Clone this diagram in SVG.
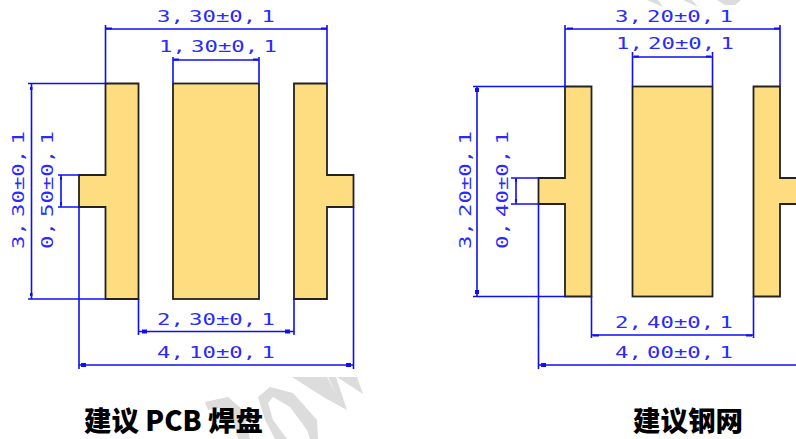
<svg xmlns="http://www.w3.org/2000/svg" width="796" height="439" viewBox="0 0 796 439">
<style>
.pad{fill:#fedc80;stroke:#222;stroke-width:1.8}
.d{stroke:#0f0ff5;stroke-width:1.6;fill:none}
.a{fill:#0f0ff5}
.t{font-family:"DejaVu Sans Mono","Liberation Mono",monospace;font-size:15.500px;fill:#2a2aff;word-spacing:-5.700px}
.w{fill:#dcdcdc}
.c{font-family:"Noto Sans CJK SC","Noto Sans",sans-serif;font-size:27.500px;font-weight:900;fill:#000}
</style>
<rect width="796" height="439" fill="#fff"/>
<g id="watermark">
<path class="w" d="M205 402L228 397L243 410L250 439H238L232 415L220 408L208 410Z"/>
<path class="w" d="M318 439L317 420L293 393L270 387L258 397L265 420L275 439H287L273 420L268 403L273 397L290 407L307 430L310 439Z"/>
<path class="w" d="M292 377H327L336 394L328 377H336L347 410L325 398Z"/>
<path class="w" d="M337 377H357L363 394Z"/>
<path class="w" d="M647 0H658L663 7ZM683 0H692L698 7ZM717 0H741L735 5H725Z"/>
</g>
<g id="pad-left-1"><path class="pad" d="M105.500 83.500H138.500V299H105.500V207H79V175H105.500Z"/></g>
<g id="pad-left-2"><rect class="pad" x="173" y="83.500" width="86" height="215.500"/></g>
<g id="pad-left-3"><path class="pad" d="M294 83.500H327V175H353.500V207H327V299H294Z"/></g>
<g id="pad-right-1"><path class="pad" d="M565 86.500H591.500V296.500H565V204H538.500V178H565Z"/></g>
<g id="pad-right-2"><rect class="pad" x="632.500" y="86.500" width="80" height="210"/></g>
<g id="pad-right-3"><path class="pad" d="M753.500 86.500H780V178H800V204H780V296.500H753.500Z"/></g>
<g id="connectors">
<path class="d" d="M105.500 25V83M327 25V83M105.500 29H327M173 57V83M259 57V83M173 60H259M28 83.500H105.500M28 299H105.500M31.500 83.500V299M58 175H79M58 207H79M61 175V207M138.500 299V335M294 299V335M138.500 331.500H294M79 207V369M353.500 207V369M79 365H353.500"/>
<path class="d" d="M565 25V86M780 25V86M565 29H780M632.500 52V86M712.500 52V86M632.500 57H712.500M473 86.500H565M473 296.500H565M477 86.500V296.500M511 178H538.500M511 204H538.500M516 178V204M591.500 296.500V338M753.500 296.500V338M591.500 335H753.500M538.500 204V369M538.500 365H796"/>
<g class="a">
<rect x="106" y="27.500" width="6" height="2"/><rect x="321" y="27.500" width="6" height="2"/>
<rect x="174" y="58.500" width="5" height="2"/><rect x="253" y="58.500" width="5" height="2"/>
<rect x="30" y="87" width="2.500" height="3"/><rect x="30" y="293" width="2.500" height="3"/>
<rect x="60" y="177" width="2" height="3"/><rect x="60" y="202" width="2" height="3"/>
<rect x="142" y="329.500" width="5" height="4"/><rect x="285" y="329.500" width="5" height="4"/>
<rect x="81" y="363" width="5" height="4"/><rect x="346" y="363" width="5" height="4"/>
<rect x="567" y="27.500" width="6" height="2"/><rect x="774" y="27.500" width="6" height="2"/>
<rect x="634" y="55.500" width="5" height="2"/><rect x="706" y="55.500" width="5" height="2"/>
<rect x="475" y="88" width="4" height="4"/><rect x="475" y="290" width="4" height="4"/>
<rect x="515" y="179" width="2" height="3"/><rect x="515" y="199" width="2" height="3"/>
<rect x="593" y="334.500" width="6" height="2"/><rect x="746" y="334.500" width="6" height="2"/>
<rect x="541" y="363" width="5" height="4"/>
</g>
</g>
<g id="labels">
<text class="t" transform="translate(157 22) scale(1.44 1)">3, 30±0, 1</text>
<text class="t" transform="translate(159 52) scale(1.44 1)">1, 30±0, 1</text>
<text class="t" transform="translate(157 325) scale(1.44 1)">2, 30±0, 1</text>
<text class="t" transform="translate(157 358) scale(1.44 1)">4, 10±0, 1</text>
<text class="t" transform="translate(24 249) rotate(-90) scale(1.44 1)">3, 30±0, 1</text>
<text class="t" transform="translate(53 249) rotate(-90) scale(1.44 1)">0, 50±0, 1</text>
<text class="t" transform="translate(615 22) scale(1.44 1)">3, 20±0, 1</text>
<text class="t" transform="translate(616 49) scale(1.44 1)">1, 20±0, 1</text>
<text class="t" transform="translate(615 328) scale(1.44 1)">2, 40±0, 1</text>
<text class="t" transform="translate(615 358) scale(1.44 1)">4, 00±0, 1</text>
<text class="t" transform="translate(471 249) rotate(-90) scale(1.44 1)">3, 20±0, 1</text>
<text class="t" transform="translate(508 249) rotate(-90) scale(1.44 1)">0, 40±0, 1</text>
<text class="c" x="84" y="431">建议 PCB 焊盘</text>
<text class="c" x="633" y="431">建议钢网</text>
</g>
</svg>
